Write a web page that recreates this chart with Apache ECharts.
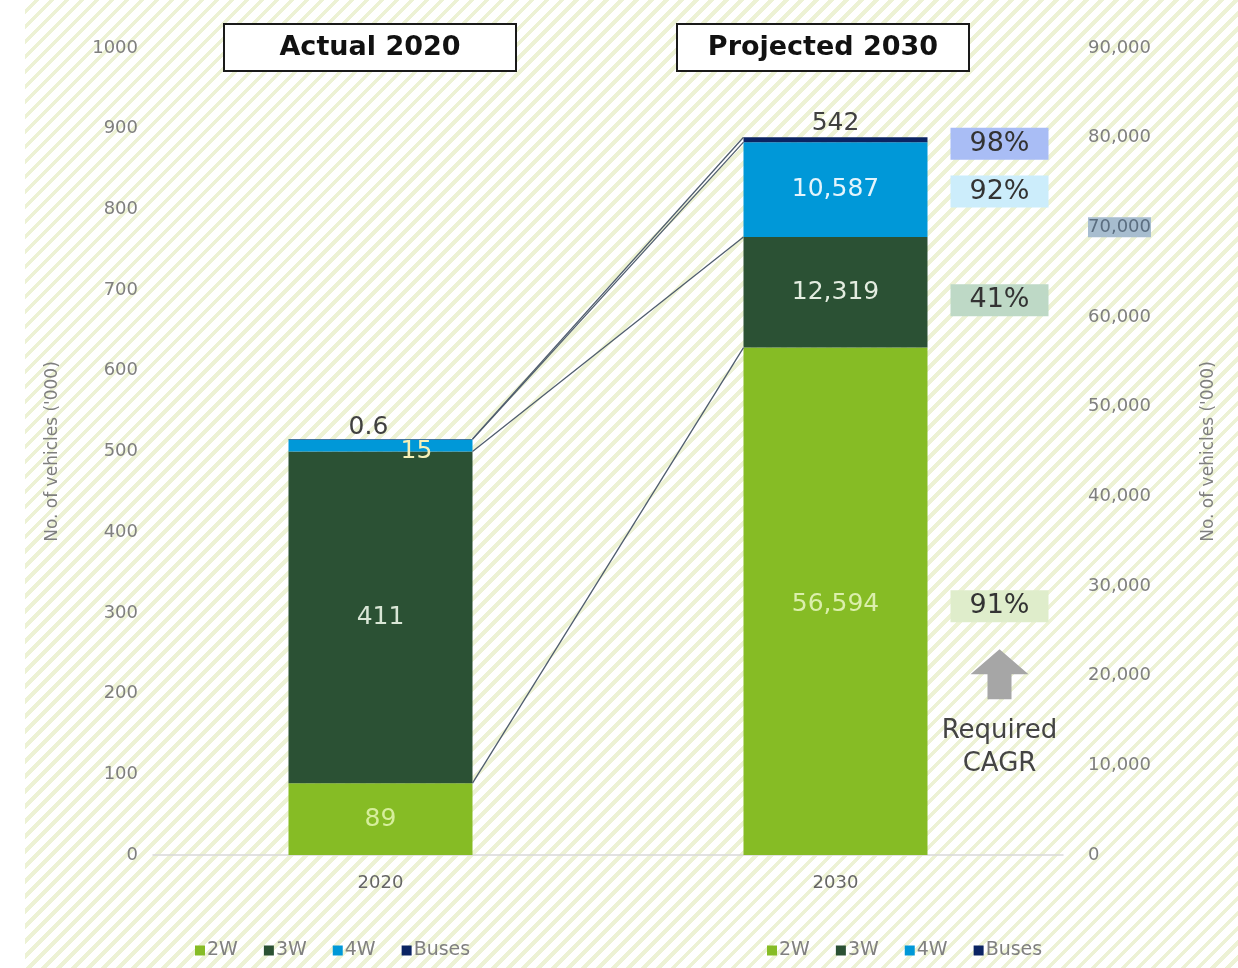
<!DOCTYPE html>
<html>
<head>
<meta charset="utf-8">
<title>Vehicles 2020 vs 2030</title>
<script src="https://cdn.jsdelivr.net/npm/echarts@6/dist/echarts.min.js"></script>
<style>
  html, body { margin: 0; padding: 0; background: #fff; }
  #wrap { position: relative; width: 1238px; height: 968px; }
  #stripes { position: absolute; left: 25px; top: 0; right: 0; bottom: 0;
    background: repeating-linear-gradient(135deg, #ffffff 0px, #ffffff 6.6px, #edf2d5 6.6px, #edf2d5 10.6px); }
  #main { position: absolute; left: 0; top: 0; width: 1238px; height: 968px; }
</style>
</head>
<body>
<div id="wrap"><div id="stripes"></div><div id="main"></div></div>
<script>
// data
const years = ['2020', '2030'];
const segments = ['2W', '3W', '4W', 'Buses'];
const actual2020 = [89, 411, 15, 0.6];
const projected2030 = [56594, 12319, 10587, 542];
const cagr = ['91%', '41%', '92%', '98%'];
const leftTicks = [0, 1000, 100];      // min, max, interval
const rightTicks = [0, 90000, 10000];

// styles
const segColors = ['#86bc25', '#2b5134', '#0098d8', '#0b2463'];
const lbl2020 = ['#d6ee9c', '#d9e6d6', '#f6f0b8', '#404040'];
const lbl2030 = ['#dbefac', '#e3ece0', '#e3f4fc', '#404040'];
const cagrBg = ['#dfedcb', '#bed9c6', '#ccedfb', '#a9bdf5'];
const cagrNudge = [5, 8, 2, 4];
const BAR_W = 184;
const FONT = 'DejaVu Sans';

const chart = echarts.init(document.getElementById('main'));

const fmt = v => Number(v).toLocaleString('en-US');

let series = [];
segments.forEach((s, i) => {
  let l20 = { show: true, position: 'inside', fontSize: 25, color: lbl2020[i], formatter: p => String(p.value) };
  if (i === 2) l20.offset = [36, 6];
  if (i === 3) { l20.position = 'top'; l20.distance = -1; l20.offset = [-12, 0]; }
  series.push({
    name: s, type: 'bar', stack: 'a2020', xAxisIndex: 0, yAxisIndex: 0,
    barWidth: BAR_W, barGap: '-100%',
    data: [actual2020[i], '-'],
    itemStyle: { color: segColors[i] },
    label: l20
  });
  let l30 = { show: true, position: 'inside', fontSize: 25, color: lbl2030[i], formatter: p => fmt(p.value) };
  if (i === 0) l30.offset = [0, 3];
  if (i === 3) { l30.position = 'top'; l30.distance = 1; }
  series.push({
    name: s, type: 'bar', stack: 'p2030', xAxisIndex: 0, yAxisIndex: 1,
    barWidth: BAR_W, barGap: '-100%',
    data: ['-', projected2030[i]],
    itemStyle: { color: segColors[i] },
    label: l30
  });
});

const boxTitle = (txt, x) => ({
  text: '{t|' + txt + '}', left: x, top: 24, padding: 0,
  borderColor: '#1a1a1a', borderWidth: 2, backgroundColor: '#fff',
  textStyle: { fontSize: 27, lineHeight: 47,
    rich: { t: { width: 292, height: 47, lineHeight: 47, align: 'center', fontSize: 27, fontWeight: 'bold', color: '#111', fontFamily: FONT } } }
});

const legendOf = x => ({
  data: segments, left: x, top: 936, icon: 'rect', itemWidth: 10, itemHeight: 10, itemGap: 26,
  textStyle: { color: '#808080', fontSize: 19, padding: [0, 0, 0, -3] }
});

const yAxisBase = {
  type: 'value', name: "No. of vehicles ('000)", nameLocation: 'middle', nameRotate: 90,
  nameTextStyle: { color: '#7f7f7f', fontSize: 17 },
  splitLine: { show: false }, axisLine: { show: false }, axisTick: { show: false }
};

chart.setOption({
  animation: false,
  textStyle: { fontFamily: FONT },
  title: [boxTitle('Actual 2020', 224), boxTitle('Projected 2030', 677)],
  legend: [legendOf(190), legendOf(762)],
  grid: { left: 153, right: 175, top: 48, bottom: 113 },
  xAxis: {
    type: 'category', data: years,
    axisLine: { lineStyle: { color: '#d9d9d9', width: 1.5 } },
    axisTick: { show: false },
    axisLabel: { color: '#666', fontSize: 18, margin: 19 }
  },
  yAxis: [
    Object.assign({}, yAxisBase, {
      position: 'left', min: leftTicks[0], max: leftTicks[1], interval: leftTicks[2], nameGap: 92,
      axisLabel: { color: '#7f7f7f', fontSize: 18, margin: 15, formatter: v => String(v) }
    }),
    Object.assign({}, yAxisBase, {
      position: 'right', min: rightTicks[0], max: rightTicks[1], interval: rightTicks[2], nameGap: 137,
      axisLabel: {
        color: '#7f7f7f', fontSize: 18, margin: 25,
        formatter: v => v === 70000 ? '{hl|' + fmt(v) + '}' : fmt(v),
        rich: { hl: { backgroundColor: '#a7bdcf', color: '#5b6e80', fontSize: 18, padding: [1, 0] } }
      }
    })
  ],
  series: series
});

// connectors between the two bars, CAGR boxes, arrow
function overlay() {
  const g = [];
  const half = BAR_W / 2;
  let c20 = 0, c30 = 0, boxX = 0, lowMid = 0;
  segments.forEach((s, i) => {
    c20 += actual2020[i];
    c30 += projected2030[i];
    const p1 = chart.convertToPixel({ xAxisIndex: 0, yAxisIndex: 0 }, [0, c20]);
    const p2 = chart.convertToPixel({ xAxisIndex: 0, yAxisIndex: 1 }, [1, c30]);
    g.push({ type: 'line', z: 5,
      shape: { x1: p1[0] + half, y1: p1[1], x2: p2[0] - half, y2: p2[1] },
      style: { stroke: '#4f5d6d', lineWidth: 1.3 } });
    const mid = chart.convertToPixel({ xAxisIndex: 0, yAxisIndex: 1 }, [1, c30 - projected2030[i] / 2]);
    boxX = p2[0] + half + 72;
    if (i === 0) lowMid = mid[1];
    g.push({ type: 'text', z: 6, x: boxX, y: mid[1] + cagrNudge[i],
      style: { text: cagr[i], align: 'center', verticalAlign: 'middle', font: '27px "DejaVu Sans"',
        fill: '#333', backgroundColor: cagrBg[i], padding: [3, 19, 2, 19] } });
  });
  const cx = boxX, t = lowMid + 48;
  g.push({ type: 'polygon', z: 6,
    shape: { points: [[cx, t], [cx + 29, t + 25], [cx + 12, t + 25], [cx + 12, t + 50], [cx - 12, t + 50], [cx - 12, t + 25], [cx - 29, t + 25]] },
    style: { fill: '#a6a6a6' } });
  g.push({ type: 'text', z: 6, x: cx, y: t + 98,
    style: { text: 'Required\nCAGR', align: 'center', verticalAlign: 'middle', font: '26px "DejaVu Sans"',
      fill: '#444', lineHeight: 33 } });
  chart.setOption({ graphic: g });
}
overlay();
</script>
</body>
</html>
